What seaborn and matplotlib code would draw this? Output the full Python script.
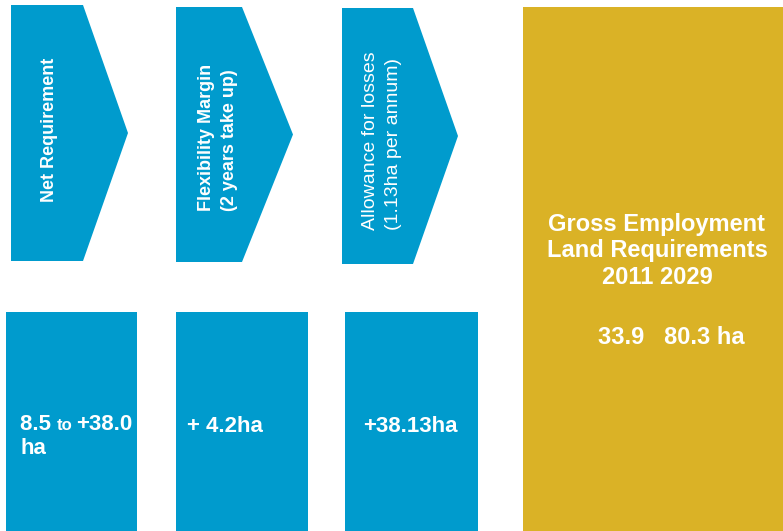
import numpy as np
import pandas as pd
import seaborn as sns
import matplotlib.pyplot as plt
from matplotlib.patches import Polygon, Rectangle

sns.set_theme(style="white")
plt.rcParams['font.family'] = ['Liberation Sans', 'DejaVu Sans']

# content of the diagram
step_titles = ["Net Requirement",
               "Flexibility Margin\n(2 years take up)",
               "Allowance for losses\n(1.13ha per annum)"]
step_bold = [True, True, False]
step_values = ["8.5 ", "+ 4.2ha", "+38.13ha"]
total_title = "Gross Employment\nLand Requirements\n2011 2029"
total_value = "33.9   80.3 ha"

blue = "#009bcd"
gold = "#dab226"

# layout in pixels (left, body right, tip, top, bottom)
arrows = [(11, 83, 128, 5, 261), (176, 242, 293, 7, 262), (342, 413, 458, 8, 264)]
title_pos = [(50, 130), (218, 137), (382, 141)]
boxes = [(6, 137), (176, 308), (345, 478)]
box_top = 312

fig = plt.figure(figsize=(7.83, 5.31), dpi=100)
ax = fig.add_axes([0, 0, 1, 1])
ax.set_xlim(0, 783)
ax.set_ylim(531, 0)
ax.axis('off')

for i, (l, r, t, y0, y1) in enumerate(arrows):
    ym = (y0 + y1) / 2
    ax.add_patch(Polygon([(l, y0), (r, y0), (t, ym), (r, y1), (l, y1)],
                         closed=True, facecolor=blue, edgecolor='none'))
    ax.text(title_pos[i][0], title_pos[i][1], step_titles[i], rotation=90,
            color='white', ha='center', va='center', multialignment='left',
            fontsize=13 if step_bold[i] else 14,
            fontweight='bold' if step_bold[i] else 'normal',
            linespacing=1.45)

for i, (l, r) in enumerate(boxes):
    ax.add_patch(Rectangle((l, box_top), r - l, 531 - box_top,
                           facecolor=blue, edgecolor='none'))

# first value has mixed sizes
ax.text(20, 425, step_values[0], color='white', fontsize=16,
        fontweight='bold', va='center', ha='left')
ax.text(57, 426, "to", color='white', fontsize=12, fontweight='bold',
        va='center', ha='left')
ax.text(76, 425, "+38.0", color='white', fontsize=16, fontweight='bold',
        va='center', ha='left')
ax.text(20, 449, "ha", color='white', fontsize=16, fontweight='bold',
        va='center', ha='left')
ax.text(187, 426, step_values[1], color='white', fontsize=16,
        fontweight='bold', va='center', ha='left')
ax.text(410, 426, step_values[2], color='white', fontsize=16,
        fontweight='bold', va='center', ha='center')

ax.add_patch(Rectangle((523, 7), 783 - 523, 531 - 7,
                       facecolor=gold, edgecolor='none'))
ax.text(657, 251, total_title, color='white', fontsize=17, fontweight='bold',
        ha='center', va='center', multialignment='center', linespacing=1.2)
ax.text(598, 337, total_value, color='white', fontsize=17, fontweight='bold',
        ha='left', va='center')

fig.savefig("out.png", dpi=100)
